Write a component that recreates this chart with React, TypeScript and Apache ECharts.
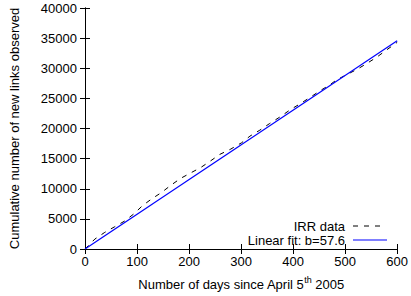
import React, { useEffect, useRef } from "react";
import * as echarts from "echarts";

const irrDays = [0, 19, 38, 57, 76, 95, 110, 129, 147, 165, 184, 204, 223, 241, 259, 279, 301, 317, 336, 355, 375, 395, 414, 434, 452, 471, 484, 503, 524, 543, 561, 580, 600];
const irrLinks = [0, 1650, 2760, 3690, 4630, 5900, 7160, 8370, 9370, 10580, 11730, 12670, 13550, 14600, 15700, 16530, 17630, 18730, 19720, 20830, 21930, 23140, 24130, 25240, 26280, 27270, 28100, 28930, 29870, 30860, 31850, 33060, 34300];
const fitDays = [0, 600];
const fitLinks = [0, 34560];
const xTicks = [0, 100, 200, 300, 400, 500, 600];
const yTicks = [0, 5000, 10000, 15000, 20000, 25000, 30000, 35000, 40000];
const seriesNames = ["IRR data", "Linear fit: b=57.6"];

const FONT = "Liberation Sans, Arial, sans-serif";
const FS = 13;
const DASH = [5, 6];

export default function App() {
  const ref = useRef<HTMLDivElement>(null);
  useEffect(() => {
    if (!ref.current) return;
    const chart = echarts.init(ref.current, null, { renderer: "svg" });
    const tickCommon = { show: true, inside: true, length: 5, lineStyle: { color: "#000", width: 1 } };
    const lineCommon = { show: true, lineStyle: { color: "#000", width: 1 } };
    const legendX = 345;
    const legendRows = [226, 240];
    chart.setOption({
      animation: false,
      backgroundColor: "#fff",
      textStyle: { fontFamily: FONT },
      grid: { left: 83, right: 9, top: 8, bottom: 46, containLabel: false },
      graphic: [
        {
          type: "text",
          x: legendX,
          y: legendRows[0],
          style: { text: seriesNames[0], fontSize: FS, fontFamily: FONT, fill: "#000", align: "right", verticalAlign: "middle" },
        },
        {
          type: "line",
          shape: { x1: 353, y1: legendRows[0], x2: 386, y2: legendRows[0] },
          style: { stroke: "#000", lineWidth: 1, lineDash: DASH },
        },
        {
          type: "text",
          x: legendX,
          y: legendRows[1],
          style: { text: seriesNames[1], fontSize: FS, fontFamily: FONT, fill: "#000", align: "right", verticalAlign: "middle" },
        },
        {
          type: "line",
          shape: { x1: 353, y1: legendRows[1], x2: 387, y2: legendRows[1] },
          style: { stroke: "#0000ff", lineWidth: 1.2 },
        },
      ],
      xAxis: [
        {
          type: "value",
          min: 0,
          max: 600,
          interval: 100,
          position: "bottom",
          axisLine: lineCommon,
          axisTick: tickCommon,
          splitLine: { show: false },
          axisLabel: {
            color: "#000",
            fontSize: FS,
            fontFamily: FONT,
            margin: 6,
            formatter: (v: number) => (xTicks.includes(v) ? String(v) : ""),
          },
          name: "{a|Number of days since April 5}{s|th}{a| 2005}",
          nameLocation: "middle",
          nameGap: 26,
          nameTextStyle: {
            color: "#000",
            fontFamily: FONT,
            rich: {
              a: { fontSize: FS, fontFamily: FONT, color: "#000", lineHeight: 16, verticalAlign: "bottom" },
              s: { fontSize: 9, fontFamily: FONT, color: "#000", lineHeight: 10, verticalAlign: "top" },
            },
          },
        },
        {
          type: "value",
          min: 0,
          max: 600,
          interval: 100,
          position: "top",
          axisLine: lineCommon,
          axisTick: tickCommon,
          splitLine: { show: false },
          axisLabel: { show: false },
        },
      ],
      yAxis: [
        {
          type: "value",
          min: 0,
          max: 40000,
          interval: 5000,
          position: "left",
          axisLine: lineCommon,
          axisTick: tickCommon,
          splitLine: { show: false },
          axisLabel: {
            color: "#000",
            fontSize: FS,
            fontFamily: FONT,
            margin: 8,
            formatter: (v: number) => (yTicks.includes(v) ? String(v) : ""),
          },
          name: "Cumulative number of new links observed",
          nameLocation: "middle",
          nameGap: 64,
          nameTextStyle: { color: "#000", fontSize: FS, fontFamily: FONT },
        },
        {
          type: "value",
          min: 0,
          max: 40000,
          interval: 5000,
          position: "right",
          axisLine: lineCommon,
          axisTick: tickCommon,
          splitLine: { show: false },
          axisLabel: { show: false },
        },
      ],
      series: [
        {
          name: seriesNames[0],
          type: "line",
          showSymbol: false,
          symbol: "none",
          data: irrDays.map((d, i) => [d, irrLinks[i]]),
          lineStyle: { color: "#000", width: 1, type: DASH },
          itemStyle: { color: "#000" },
        },
        {
          name: seriesNames[1],
          type: "line",
          showSymbol: false,
          symbol: "none",
          data: fitDays.map((d, i) => [d, fitLinks[i]]),
          lineStyle: { color: "#0000ff", width: 1.2 },
          itemStyle: { color: "#0000ff" },
        },
      ],
    });
    return () => chart.dispose();
  }, []);
  return (
    <div
      ref={ref}
      style={{ position: "fixed", left: 0, top: 0, width: 411, height: 296, background: "#fff" }}
    />
  );
}
